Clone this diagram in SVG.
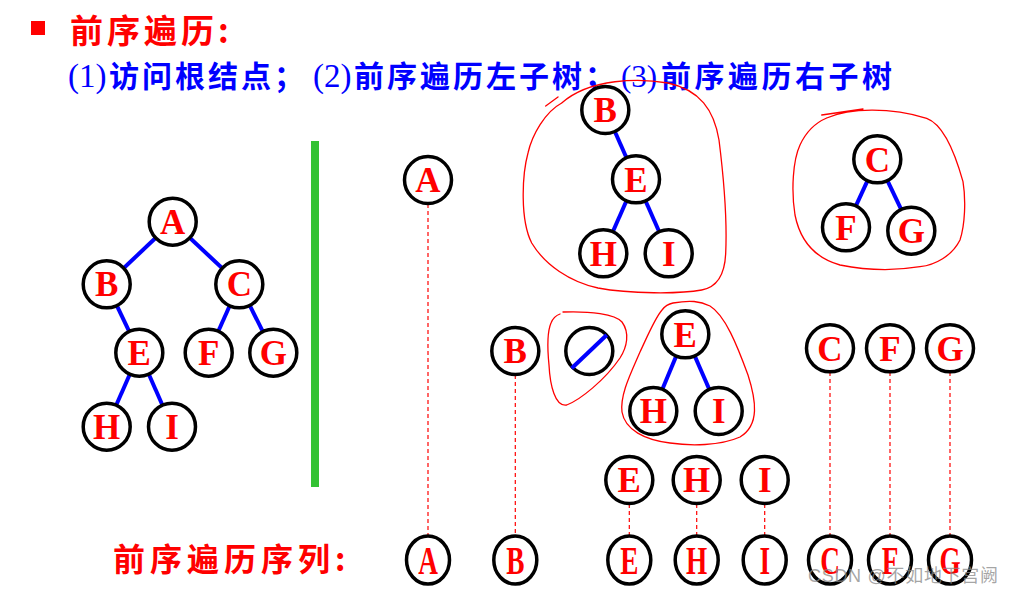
<svg xmlns="http://www.w3.org/2000/svg" width="1013" height="593" viewBox="0 0 1013 593">
<style>
.n circle,.n ellipse{fill:#fff;stroke:#000;stroke-width:3.5}
.n text{font-family:"Liberation Serif",serif;font-weight:bold;font-size:35px;fill:#f00;text-anchor:middle}
.n text.r{font-size:39px}
.e{stroke:#00f;stroke-width:4;fill:none}
.d{stroke:#f00;stroke-width:1.2;stroke-dasharray:4 3;fill:none}
.loop{stroke:#f00;stroke-width:1.3;fill:none;stroke-linecap:round;stroke-linejoin:round}
.cjk{font-family:"Noto Sans CJK SC","Noto Sans CJK JP",sans-serif;font-weight:bold}
.ser{font-family:"Liberation Serif",serif}
</style>
<rect width="1013" height="593" fill="#fff"/>
<!-- header -->
<rect x="31" y="21" width="14" height="14" fill="#f00"/>
<text x="70" y="43" class="cjk" font-size="33" fill="#f00" letter-spacing="4">前序遍历:</text>
<g fill="#00f" font-size="30">
<text x="68" y="87" class="ser" font-size="33">(1)</text>
<text x="109" y="87" class="cjk" letter-spacing="3">访问根结点；</text>
<text x="313" y="87" class="ser" font-size="33">(2)</text>
<text x="354" y="87" class="cjk" letter-spacing="3">前序遍历左子树；</text>
<text x="621" y="87" class="ser" font-size="31">(3)</text>
<text x="661" y="87" class="cjk" letter-spacing="3.5">前序遍历右子树</text>
</g>
<!-- green divider -->
<rect x="311" y="141" width="8" height="346" fill="#33c233"/>
<!-- connectors -->
<g id="connectors">
<line class="e" x1="172.7" y1="221.7" x2="106.7" y2="284.3"/>
<line class="e" x1="172.7" y1="221.7" x2="239.3" y2="284.3"/>
<line class="e" x1="106.7" y1="284.3" x2="139.3" y2="352.7"/>
<line class="e" x1="239.3" y1="284.3" x2="208.7" y2="352.7"/>
<line class="e" x1="239.3" y1="284.3" x2="273.3" y2="352.7"/>
<line class="e" x1="139.3" y1="352.7" x2="106.7" y2="426.7"/>
<line class="e" x1="139.3" y1="352.7" x2="172" y2="426.7"/>
<line class="e" x1="605.3" y1="110" x2="636" y2="179.3"/>
<line class="e" x1="636" y1="179.3" x2="603.3" y2="253.3"/>
<line class="e" x1="636" y1="179.3" x2="668.7" y2="253.3"/>
<line class="e" x1="877.3" y1="159.3" x2="846" y2="227.3"/>
<line class="e" x1="877.3" y1="159.3" x2="911.3" y2="230.7"/>
<line class="e" x1="685.3" y1="334.3" x2="653.3" y2="411"/>
<line class="e" x1="685.3" y1="334.3" x2="718.7" y2="411"/>
<line class="d" x1="428" y1="204" x2="428" y2="536"/>
<line class="d" x1="515.3" y1="375" x2="515.3" y2="536"/>
<line class="d" x1="629.3" y1="504" x2="629.3" y2="536"/>
<line class="d" x1="696.7" y1="504" x2="696.7" y2="536"/>
<line class="d" x1="764.7" y1="504" x2="764.7" y2="536"/>
<line class="d" x1="830" y1="372" x2="830" y2="536"/>
<line class="d" x1="890" y1="372" x2="890" y2="536"/>
<line class="d" x1="950" y1="372" x2="950" y2="536"/>
</g>
<!-- red loops -->
<g id="loops">
<path class="loop" d="M545.7,106 L558,97 M561.7,103 C590,78 640,78 668,83 C700,90 714,110 719,140 C724,180 727,225 725.7,253 C725,272 718,287 701.7,290 C680,294 630,294 598,288 C570,282 545,265 531.7,243 C520,220 522,175 528,153 C532,135 545,112 561.7,103"/>
<path class="loop" d="M821.7,115 L863,109 M826.7,118 C850,108 890,107 926.7,118.3 C945,125 957,160 963,181.7 C966,200 965,225 960,240 C952,256 935,265 920,266.7 C900,270 870,271 840,265 C815,258 800,240 795,215 C791,190 793,160 800,145 C806,132 815,123 826.7,118"/>
<path class="loop" d="M563,312 C590,311 615,314 622,322 C630,333 627,347 620,358 C605,380 580,400 566.7,405 C555,407 550,385 549,365 C547,345 548,330 551,323 C553,318 557,315 560,314"/>
<path class="loop" d="M673,303 C690,300 700,301 710,306 C725,315 737,345 748,375 C756,400 760,425 740,437 C720,446 690,446 670,443 C645,440 625,430 622,412 C620,395 630,375 640,352 C648,335 655,318 662,310 C665,306 668,304 673,303"/>
</g>
<!-- left tree -->
<g id="L_A" class="n"><circle cx="172.7" cy="221.7" r="23.5"/><text x="172.7" y="233.5">A</text></g>
<g id="L_B" class="n"><circle cx="106.7" cy="284.3" r="23.5"/><text x="106.7" y="296">B</text></g>
<g id="L_C" class="n"><circle cx="239.3" cy="284.3" r="23.5"/><text x="239.3" y="296">C</text></g>
<g id="L_E" class="n"><circle cx="139.3" cy="352.7" r="23.5"/><text x="139.3" y="364.5">E</text></g>
<g id="L_F" class="n"><circle cx="208.7" cy="352.7" r="23.5"/><text x="208.7" y="364.5">F</text></g>
<g id="L_G" class="n"><circle cx="273.3" cy="352.7" r="23.5"/><text x="273.3" y="364.5">G</text></g>
<g id="L_H" class="n"><circle cx="106.7" cy="426.7" r="23.5"/><text x="106.7" y="438.5">H</text></g>
<g id="L_I" class="n"><circle cx="172" cy="426.7" r="23.5"/><text x="172" y="438.5">I</text></g>
<!-- step 1 -->
<g id="S_A" class="n"><circle cx="428" cy="180" r="23.5"/><text x="428" y="192">A</text></g>
<g id="S_B" class="n"><circle cx="605.3" cy="110" r="23.5"/><text x="605.3" y="122">B</text></g>
<g id="S_E" class="n"><circle cx="636" cy="179.3" r="23.5"/><text x="636" y="191.5">E</text></g>
<g id="S_H" class="n"><circle cx="603.3" cy="253.3" r="23.5"/><text x="603.3" y="265.5">H</text></g>
<g id="S_I" class="n"><circle cx="668.7" cy="253.3" r="23.5"/><text x="668.7" y="265.5">I</text></g>
<g id="S_C" class="n"><circle cx="877.3" cy="159.3" r="23.5"/><text x="877.3" y="171.5">C</text></g>
<g id="S_F" class="n"><circle cx="846" cy="227.3" r="23.5"/><text x="846" y="239.5">F</text></g>
<g id="S_G" class="n"><circle cx="911.3" cy="230.7" r="23.5"/><text x="911.3" y="243">G</text></g>
<!-- step 2 -->
<g id="T_B" class="n"><circle cx="515.3" cy="351" r="23.5"/><text x="515.3" y="363">B</text></g>
<g id="T_null" class="n"><circle cx="589.3" cy="351" r="23.5"/><line class="e" x1="571.7" y1="368.3" x2="606.7" y2="335"/></g>
<g id="T_E" class="n"><circle cx="685.3" cy="334.3" r="23.5"/><text x="685.3" y="346.5">E</text></g>
<g id="T_H" class="n"><circle cx="653.3" cy="411" r="23.5"/><text x="653.3" y="423">H</text></g>
<g id="T_I" class="n"><circle cx="718.7" cy="411" r="23.5"/><text x="718.7" y="423">I</text></g>
<g id="T_C" class="n"><circle cx="830" cy="348.3" r="23.5"/><text x="830" y="360.5">C</text></g>
<g id="T_F" class="n"><circle cx="890" cy="348.3" r="23.5"/><text x="890" y="360.5">F</text></g>
<g id="T_G" class="n"><circle cx="950" cy="348.3" r="23.5"/><text x="950" y="360.5">G</text></g>
<!-- step 3 -->
<g id="U_E" class="n"><circle cx="629.3" cy="480" r="23.5"/><text x="629.3" y="492">E</text></g>
<g id="U_H" class="n"><circle cx="696.7" cy="480" r="23.5"/><text x="696.7" y="492">H</text></g>
<g id="U_I" class="n"><circle cx="764.7" cy="480" r="23.5"/><text x="764.7" y="492">I</text></g>
<!-- result row -->
<text x="113" y="571" class="cjk" font-size="32" fill="#f00" letter-spacing="5">前序遍历序列:</text>
<g id="R_A" class="n"><ellipse cx="428" cy="560" rx="21.5" ry="24"/><text class="r" transform="translate(428 573.5) scale(0.7 1)">A</text></g>
<g id="R_B" class="n"><ellipse cx="515.3" cy="560" rx="21.5" ry="24"/><text class="r" transform="translate(515.3 573.5) scale(0.7 1)">B</text></g>
<g id="R_E" class="n"><ellipse cx="629.3" cy="560" rx="21.5" ry="24"/><text class="r" transform="translate(629.3 573.5) scale(0.7 1)">E</text></g>
<g id="R_H" class="n"><ellipse cx="696.7" cy="560" rx="21.5" ry="24"/><text class="r" transform="translate(696.7 573.5) scale(0.7 1)">H</text></g>
<g id="R_I" class="n"><ellipse cx="764.7" cy="560" rx="21.5" ry="24"/><text class="r" transform="translate(764.7 573.5) scale(0.7 1)">I</text></g>
<g id="R_C" class="n"><ellipse cx="830" cy="560" rx="21.5" ry="24"/><text class="r" transform="translate(830 573.5) scale(0.7 1)">C</text></g>
<g id="R_F" class="n"><ellipse cx="890" cy="560" rx="21.5" ry="24"/><text class="r" transform="translate(890 573.5) scale(0.7 1)">F</text></g>
<g id="R_G" class="n"><ellipse cx="950" cy="560" rx="21.5" ry="24"/><text class="r" transform="translate(950 573.5) scale(0.7 1)">G</text></g>
<!-- watermark -->
<text x="808" y="582" font-family="'Liberation Sans','Noto Sans CJK SC',sans-serif" font-size="18" fill="#888" fill-opacity="0.75" textLength="190" lengthAdjust="spacing">CSDN @不如地下宫阙</text>
</svg>
